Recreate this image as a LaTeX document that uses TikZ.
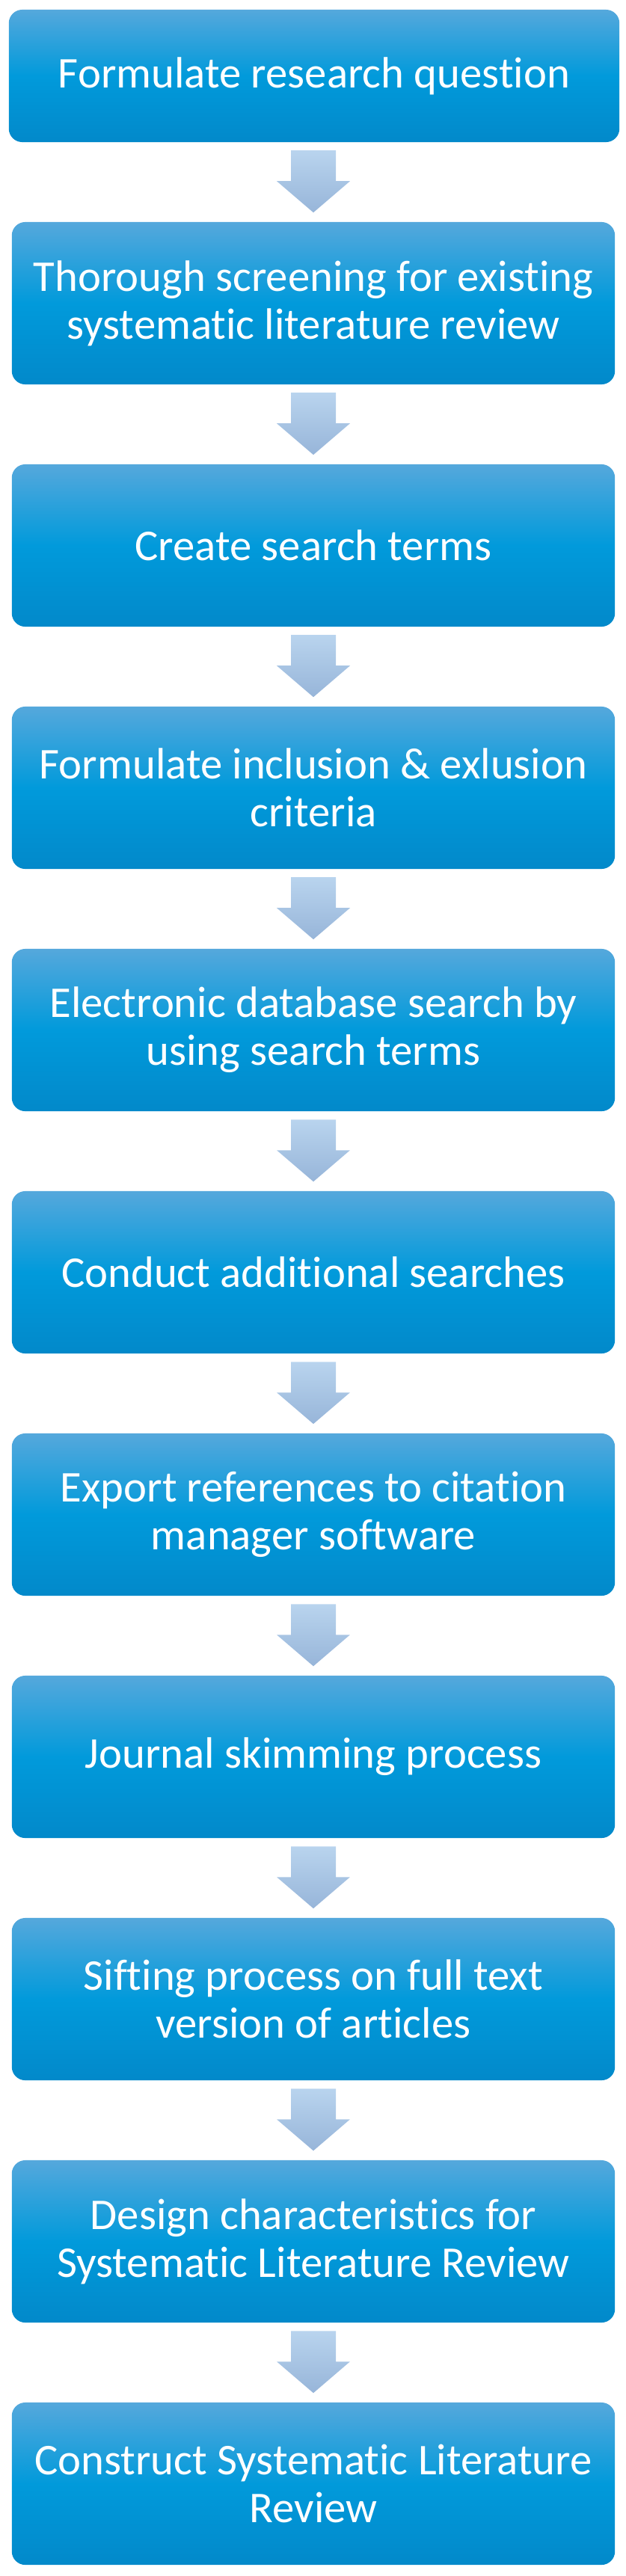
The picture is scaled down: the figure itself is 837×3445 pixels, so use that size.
\documentclass[tikz,border=0pt]{standalone}
\usepackage{fontspec}
\setmainfont{Carlito}[Ligatures=NoCommon]
\usetikzlibrary{positioning,calc}

\definecolor{boxtop}{HTML}{55A8DC}
\definecolor{boxmid}{HTML}{019ADB}
\definecolor{boxbot}{HTML}{0289CA}
\definecolor{arrtop}{HTML}{B9D4EE}
\definecolor{arrbot}{HTML}{97B5D9}

\begin{document}
\begin{tikzpicture}[
  x=0.01cm, y=-0.01cm,
  every node/.style={font=\fontsize{16.7}{18.2}\selectfont, text=white, align=center},
  stepbox/.style={rounded corners=0.18cm, minimum width=8.06cm, minimum height=2.17cm,
    top color=boxtop, bottom color=boxbot, middle color=boxmid, inner sep=0pt},
  flowarrow/.style={top color=arrtop, bottom color=arrbot}
]
\useasboundingbox (0,0) rectangle (837,3445);

% Steps (boxes)
\node[stepbox, minimum width=8.16cm, minimum height=1.77cm] (s1) at (420,101.5) {Formulate research question};
\node[stepbox] (s2) at (419,405.5) {Thorough screening for existing\\systematic literature review};
\node[stepbox] (s3) at (419,729.5) {Create search terms};
\node[stepbox] (s4) at (419,1053.5) {Formulate inclusion \& exlusion\\criteria};
\node[stepbox] (s5) at (419,1377.5) {Electronic database search by\\using search terms};
\node[stepbox] (s6) at (419,1701.5) {Conduct additional searches};
\node[stepbox] (s7) at (419,2025.5) {Export references to citation\\manager software};
\node[stepbox] (s8) at (419,2349.5) {Journal skimming process};
\node[stepbox] (s9) at (419,2673.5) {Sifting process on full text\\version of articles};
\node[stepbox] (s10) at (419,2997.5) {Design characteristics for\\Systematic Literature Review};
\node[stepbox] (s11) at (419,3321.5) {Construct Systematic Literature\\Review};

% Block arrows between steps
\foreach \a/\b in {s1/s2,s2/s3,s3/s4,s4/s5,s5/s6,s6/s7,s7/s8,s8/s9,s9/s10,s10/s11}
  \shade[flowarrow] ($(\b.north)+(-30,-95)$) -- ($(\b.north)+(30,-95)$) -- ($(\b.north)+(30,-54)$)
    -- ($(\b.north)+(49,-54)$) -- ($(\b.north)+(0,-12)$) -- ($(\b.north)+(-49,-54)$)
    -- ($(\b.north)+(-30,-54)$) -- cycle;

\end{tikzpicture}
\end{document}
